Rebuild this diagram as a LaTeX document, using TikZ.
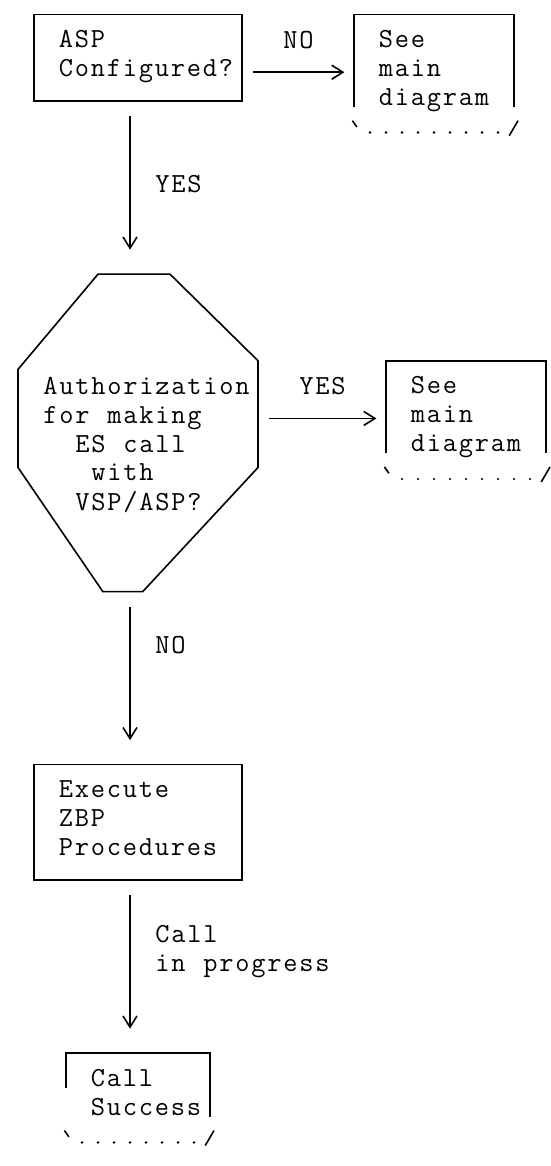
\documentclass[tikz,border=0pt]{standalone}
\usepackage{fontspec}
\usetikzlibrary{arrows.meta}

% one character cell of the grid: 8pt wide, 14.425pt tall
\newlength\cw \setlength\cw{8pt}
\newlength\rh \setlength\rh{14.425pt}
\newcommand\rowstrut{\vrule height 9.376pt depth 5.049pt width 0pt}
\newcommand\monotext{\ttfamily\fontsize{13.8pt}{14.425pt}\selectfont\setbox\strutbox\hbox{\rowstrut}}
% every character sits centred in its own grid cell
\makeatletter
\newcommand\cells[1]{\@tfor\cellch:=#1\do{\makebox[\cw][c]{\cellch}}}
\makeatother
\newcommand\lines[1]{\begin{tabular}{@{}l@{}}#1\end{tabular}}
\newcommand\padded[2]{\makebox[#1\cw][l]{\hspace*{1.5\cw}\lines{#2}}}

\tikzset{
  txt/.style={font=\monotext, inner sep=0pt, anchor=north west},
  procbox/.style 2 args={font=\monotext, inner sep=0pt, outer sep=0pt,
    minimum width=#1*\cw, minimum height=#2*\rh},
  frameline/.style={line width=0.8pt},
  dotrow/.style={line width=1.35pt, line cap=round, dash pattern=on 0.01pt off 7.99pt},
  flow/.style={line width=0.8pt, -{Straight Barb[length=5.6pt,width=7pt]}},
  vflow/.style={flow, shorten <=7.65pt, shorten >=12.26pt},
  hflow/.style={flow, shorten <=5.4pt, shorten >=4.8pt}
}

\begin{document}
\begin{tikzpicture}[x=8pt, y=-14.425pt]
\useasboundingbox[fill=white] (-1.125,0.497) rectangle (33.25,40.91);

% boxes
\node[procbox={13}{3}, draw, frameline] (A) at (7.5,2.5)
  {\padded{13}{\cells{ASP}\\\cells{Configured?}}};
\node[procbox={10}{4}] (B) at (26,3)
  {\padded{10}{\cells{See}\\\cells{main}\\\cells{diagram}}};
\node[procbox={10}{4}] (C) at (28,15)
  {\padded{10}{\cells{See}\\\cells{main}\\\cells{diagram}}};
\node[procbox={13}{4}, draw, frameline] (E) at (7.5,29)
  {\padded{13}{\cells{Execute}\\\cells{ZBP}\\\cells{Procedures}}};
\node[procbox={9}{3}] (F) at (7.5,38.5)
  {\padded{9}{\cells{Call}\\\cells{Success}}};

% open-bottomed outlines of the terminal boxes
\foreach \n in {B,C}{
  \draw[frameline] (\n.north west) ++(0,3.21) -- (\n.north west) -- (\n.north east) -- ++(0,3.21);
  \draw[frameline] (\n.north west) ++(-0.1,3.68) -- ++(0.28,0.22);
  \draw[dotrow] (\n.north west) ++(1,4.1) -- ++(8,0);
  \draw[frameline] (\n.north east) ++(-0.3,4.2) -- ++(0.55,-0.52);
}
\draw[frameline] (F.north west) ++(0,1.21) -- (F.north west) -- (F.north east) -- ++(0,2.21);
\draw[frameline] (F.north west) ++(-0.1,2.68) -- ++(0.28,0.22);
\draw[dotrow] (F.north west) ++(1,3.1) -- ++(7,0);
\draw[frameline] (F.north east) ++(-0.3,3.2) -- ++(0.55,-0.52);

% decision
\node[txt] (D) at (1.5,13.5) {\lines{\cells{Authorization}\\\cells{for~making}\\
  \hspace*{2\cw}\cells{ES~call}\\\hspace*{3\cw}\cells{with}\\\hspace*{2\cw}\cells{VSP/ASP?}}};
\coordinate (d1) at (5,10);
\coordinate (d2) at (9.5,10);
\coordinate (d3) at (15,13);
\coordinate (d4) at (15,16.7);
\coordinate (d5) at (7.8,21);
\coordinate (d6) at (5.3,21);
\coordinate (d7) at (0,16.7);
\coordinate (d8) at (0,13.3);
\draw[frameline] (d1) -- (d2) -- (d3) -- (d4) -- (d5) -- (d6) -- (d7) -- (d8) -- cycle;
\coordinate (dIn) at (7,10);
\coordinate (dOut) at (7,21);
\coordinate (dYes) at (15,15);

% connectors
\coordinate (r3) at (0,3);
\draw[hflow] (A.east |- r3) -- (B.west |- r3);
\draw[vflow] (dIn |- A.south) -- (dIn);
\draw[hflow] (dYes) -- (C.west |- dYes);
\draw[vflow] (dOut) -- (dOut |- E.north);
\draw[vflow] (dOut |- E.south) -- (dOut |- F.north);

% connector labels
\node[txt] (no1) at (16.5,1.5) {\rowstrut\cells{NO}};
\node[txt] (yes1) at (8.5,6.5) {\rowstrut\cells{YES}};
\node[txt] (yes2) at (17.5,13.5) {\rowstrut\cells{YES}};
\node[txt] (no2) at (8.5,22.5) {\rowstrut\cells{NO}};
\node[txt] (prog) at (8.5,32.5) {\lines{\cells{Call}\\\cells{in~progress}}};
\end{tikzpicture}
\end{document}
